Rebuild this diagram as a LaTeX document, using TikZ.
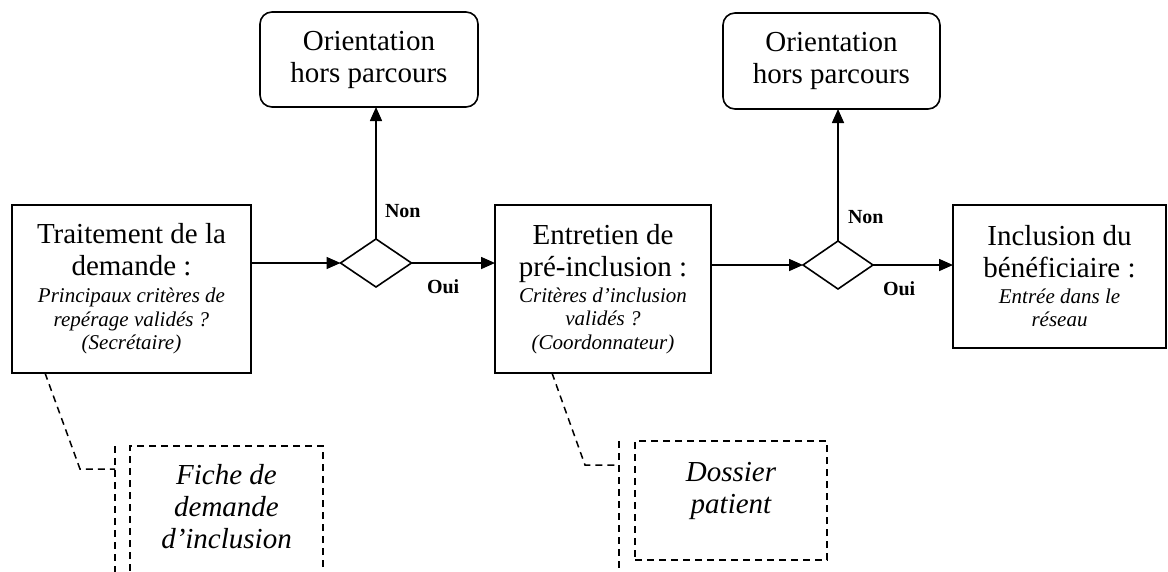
\documentclass[tikz,border=0pt]{standalone}
\usepackage{fontspec}
\setmainfont{Liberation Serif}
\usetikzlibrary{shapes.geometric,arrows.meta}
\begin{document}
\begin{tikzpicture}[x=1pt,y=-1pt,
  every node/.style={inner sep=0pt, outer sep=0pt},
  proc/.style={draw, line width=1.6pt, rectangle, align=flush center,
    font=\fontsize{29}{32}\selectfont},
  orient/.style={draw, line width=1.6pt, rectangle, rounded corners=12pt,
    align=center, font=\fontsize{29}{32}\selectfont},
  decis/.style={draw, line width=1.6pt, diamond, shape aspect=1.5},
  docbox/.style={draw, line width=1.5pt, dash pattern=on 7pt off 5pt,
    align=flush center, font=\itshape\fontsize{29}{32}\selectfont},
  lbl/.style={font=\fontsize{20}{24}\selectfont\bfseries, anchor=base west},
  flow/.style={line width=1.6pt, -{Triangle[length=14pt,width=12pt]}},
  dashline/.style={line width=1.5pt, dash pattern=on 7pt off 5pt}
]
\useasboundingbox (0,0) rectangle (1168,571);
\clip (0,0) rectangle (1168,571);

% main boxes
\node[proc, minimum width=239pt, minimum height=168pt, text width=225pt] (a) at (131.5,289)
  {Traitement de la\\demande :\par
   {\itshape\fontsize{21}{23.5}\selectfont\vspace{3.5pt}Principaux critères de\\repérage validés ?\\(Secrétaire)\par}};
\node[proc, minimum width=216pt, minimum height=168pt, text width=205pt] (b) at (603,289)
  {Entretien de\\pré-inclusion :\par
   {\itshape\fontsize{21}{23.5}\selectfont\vspace{2pt}Critères d’inclusion\\validés ?\\(Coordonnateur)\par}};
\node[proc, minimum width=213pt, minimum height=143pt, text width=200pt] (c) at (1059.5,276.5)
  {Inclusion du\\bénéficiaire :\par
   {\itshape\fontsize{21}{23.5}\selectfont\vspace{2pt}Entrée dans le\\réseau\par}};

% top boxes
\node[orient, minimum width=218pt, minimum height=95pt] (t1) at (369,59.5) {Orientation\\hors parcours};
\node[orient, minimum width=217pt, minimum height=96pt] (t2) at (831.5,61) {Orientation\\hors parcours};

% decisions
\node[decis, minimum width=71pt, minimum height=48pt] (d1) at (376,263) {};
\node[decis, minimum width=70pt, minimum height=48pt] (d2) at (838,265) {};

% flows
\draw[flow] (a.east |- d1.west) -- (d1.west);
\draw[flow] (d1.east) -- (b.west |- d1.east);
\draw[flow] (d1.north) -- (d1.north |- t1.south);
\draw[flow] (b.east |- d2.west) -- (d2.west);
\draw[flow] (d2.east) -- (c.west |- d2.east);
\draw[flow] (d2.north) -- (d2.north |- t2.south);

% labels
\node[lbl] (non1) at (385,217) {Non};
\node[lbl] (oui1) at (427,293) {Oui};
\node[lbl] (non2) at (848,223) {Non};
\node[lbl] (oui2) at (883,295) {Oui};

% documents
\node[docbox, minimum width=193pt, minimum height=132pt, text width=185pt] (f1) at (226.5,512)
  {Fiche de\\demande\\d’inclusion\par\kern10pt};
\node[docbox, minimum width=192pt, minimum height=119pt, text width=185pt] (f2) at (731,500.5)
  {Dossier\\patient\par\kern19pt};

% annotation connectors
\coordinate (k1) at (80,469);
\coordinate (b1t) at (115,446);
\coordinate (b1b) at (115,590);
\draw[dashline] ([xshift=33pt]a.south west) -- (k1) -- (k1 -| b1t);
\draw[dashline] (b1t) -- (b1b);

\coordinate (k2) at (585,465);
\coordinate (b2t) at (619,441);
\coordinate (b2b) at (619,590);
\draw[dashline] ([xshift=57pt]b.south west) -- (k2) -- (k2 -| b2t);
\draw[dashline] (b2t) -- (b2b);
\end{tikzpicture}
\end{document}
